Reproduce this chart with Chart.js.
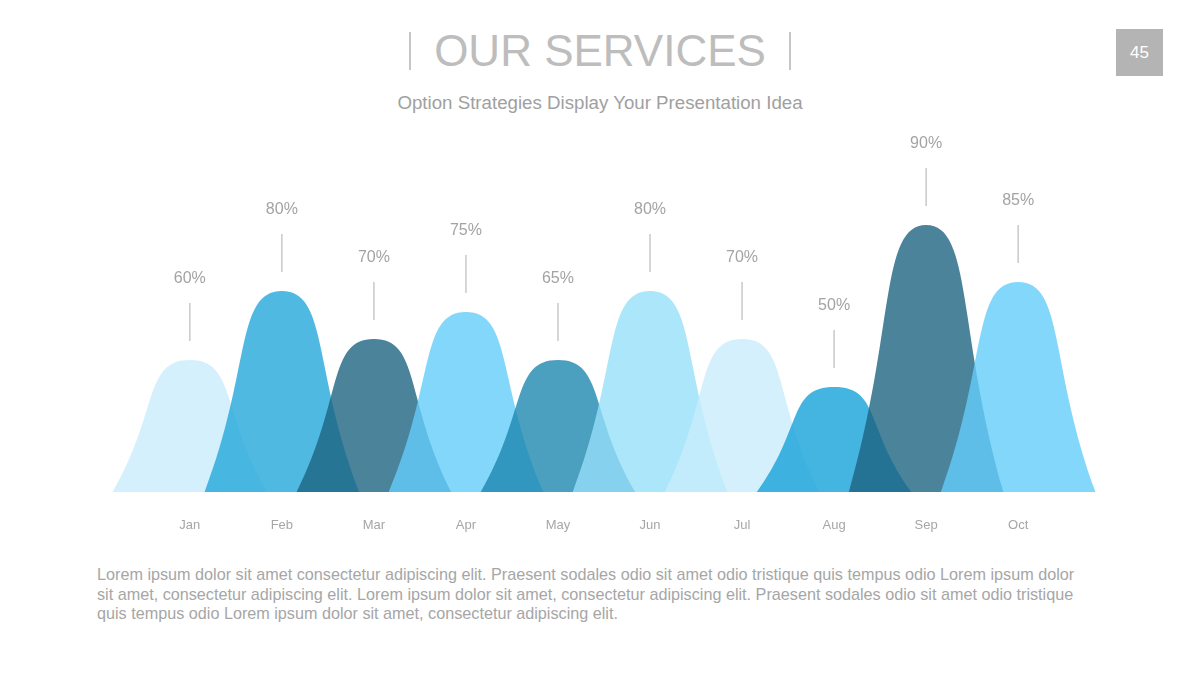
<!DOCTYPE html>
<html>
<head>
<meta charset="utf-8">
<title>Our Services</title>
<script src="https://cdn.jsdelivr.net/npm/chart.js@4"></script>
<style>
    body {
        margin: 0;
        width: 1200px;
        height: 680px;
        background: #ffffff;
        font-family: "Liberation Sans", Arial, sans-serif;
        position: relative;
        overflow: hidden;
    }
    #title {
        position: absolute;
        top: 32px;
        left: 0;
        width: 1200px;
        text-align: center;
    }
    #title span {
        display: inline-block;
        font-size: 44px;
        line-height: 38px;
        color: #bdbdbd;
        padding: 0 23px;
        border-left: 2px solid #c6c6c6;
        border-right: 2px solid #c6c6c6;
    }
    #subtitle {
        position: absolute;
        top: 92px;
        left: 0;
        width: 1200px;
        text-align: center;
        font-size: 18.7px;
        line-height: 22px;
        color: #a0a0a0;
    }
    #pageNum {
        position: absolute;
        left: 1116px;
        top: 29px;
        width: 47px;
        height: 47px;
        background: #b4b4b4;
        color: #ffffff;
        font-size: 17px;
        display: flex;
        align-items: center;
        justify-content: center;
    }
    #chartBox {
        position: absolute;
        left: 0;
        top: 130px;
        width: 1200px;
        height: 420px;
    }
    #notes {
        position: absolute;
        left: 97px;
        top: 565px;
        width: 995px;
        font-size: 16.2px;
        line-height: 19.5px;
        color: #a6a6a6;
    }
</style>
</head>
<body>
<div id="title"><span>OUR SERVICES</span></div>
<div id="subtitle">Option Strategies Display Your Presentation Idea</div>
<div id="pageNum">45</div>
<div id="chartBox"><canvas id="servicesChart"></canvas></div>
<div id="notes">Lorem ipsum dolor sit amet consectetur adipiscing elit. Praesent sodales odio sit amet odio tristique quis tempus odio Lorem ipsum dolor sit amet, consectetur adipiscing elit. Lorem ipsum dolor sit amet, consectetur adipiscing elit. Praesent sodales odio sit amet odio tristique quis tempus odio Lorem ipsum dolor sit amet, consectetur adipiscing elit.</div>

<script>
// chart data
const months = ['Jan', 'Feb', 'Mar', 'Apr', 'May', 'Jun', 'Jul', 'Aug', 'Sep', 'Oct'];
const percentLabels = [60, 80, 70, 75, 65, 80, 70, 50, 90, 85];
// hump heights as drawn in the picture (0-100 scale)
const humpHeights = [44, 67, 51, 60, 44, 67, 51, 35, 89, 70];

const humpColors = [
    'rgba(200, 236, 251, 0.8)',
    'rgba(40, 170, 220, 0.82)',
    'rgba(30, 100, 130, 0.8)',
    'rgba(100, 205, 250, 0.8)',
    'rgba(30, 135, 175, 0.8)',
    'rgba(150, 224, 250, 0.8)',
    'rgba(200, 236, 251, 0.8)',
    'rgba(35, 167, 218, 0.85)',
    'rgba(30, 100, 130, 0.8)',
    'rgba(100, 205, 250, 0.8)'
];

const halfWidth = 0.84;

function buildHump(i) {
    return [
        { x: i - halfWidth, y: 0 },
        { x: i, y: humpHeights[i] },
        { x: i + halfWidth, y: 0 }
    ];
}

const datasets = months.map(function(m, i) {
    return {
        label: m,
        data: buildHump(i),
        backgroundColor: humpColors[i],
        borderColor: 'transparent',
        borderWidth: 0,
        pointRadius: 0,
        fill: 'origin',
        tension: 0.6,
        order: months.length - i
    };
});

// percent labels with small leader lines above every hump
const peakLabels = {
    id: 'peakLabels',
    afterDatasetsDraw(chart) {
        const ctx = chart.ctx;
        const xs = chart.scales.x;
        const ys = chart.scales.y;
        ctx.save();
        months.forEach(function(m, i) {
            const x = xs.getPixelForValue(i);
            const top = ys.getPixelForValue(humpHeights[i]);
            ctx.strokeStyle = '#c9c9c9';
            ctx.lineWidth = 1.5;
            ctx.beginPath();
            ctx.moveTo(x, top - 19);
            ctx.lineTo(x, top - 57);
            ctx.stroke();
            ctx.fillStyle = '#a3a3a3';
            ctx.font = '16px "Liberation Sans", Arial, sans-serif';
            ctx.textAlign = 'center';
            ctx.textBaseline = 'middle';
            ctx.fillText(percentLabels[i] + '%', x, top - 81);
        });
        ctx.restore();
    }
};

const ctx = document.getElementById('servicesChart').getContext('2d');
const servicesChart = new Chart(ctx, {
    type: 'line',
    data: { datasets: datasets },
    options: {
        responsive: true,
        maintainAspectRatio: false,
        animation: false,
        layout: {
            padding: { top: 62, left: 107, right: 99, bottom: 18 }
        },
        plugins: {
            legend: { display: false },
            tooltip: { enabled: false }
        },
        scales: {
            x: {
                type: 'linear',
                min: -0.9,
                max: 9.9,
                grid: { display: false, drawTicks: false },
                border: { display: false },
                afterBuildTicks: function(scale) {
                    scale.ticks = months.map((m, i) => ({ value: i }));
                },
                afterFit: function(scale) {
                    scale.height = 40;
                },
                ticks: {
                    padding: 26,
                    color: '#a6a6a6',
                    font: { family: '"Liberation Sans", Arial, sans-serif', size: 13 },
                    callback: function(value) {
                        return months[value];
                    }
                }
            },
            y: {
                display: false,
                min: 0,
                max: 100
            }
        }
    },
    plugins: [peakLabels]
});
</script>
</body>
</html>
